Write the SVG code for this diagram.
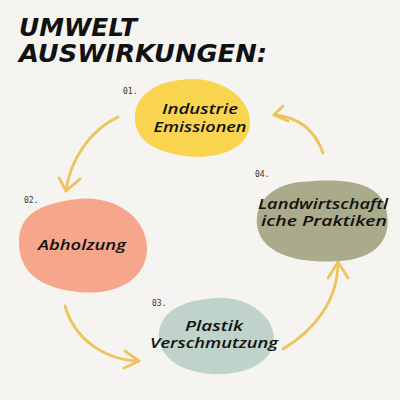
<svg xmlns="http://www.w3.org/2000/svg" width="400" height="400" viewBox="0 0 400 400">
<style>
.title{font-family:"DejaVu Sans","Liberation Sans",sans-serif;font-weight:bold;font-style:italic;font-size:25px;fill:#111}
.lbl{font-family:"Open Sans","DejaVu Sans",sans-serif;font-weight:600;font-style:italic;font-size:15px;fill:#111}
.num{font-family:"DejaVu Sans Mono","Liberation Mono",monospace;font-size:8px;fill:#333}
.arr{fill:none;stroke:#ecc35c;stroke-width:2.8;stroke-linecap:round;stroke-linejoin:round}
</style>
<rect width="400" height="400" fill="#f6f4f1"/>
<g id="title">
<text class="title" x="19" y="36" textLength="118" lengthAdjust="spacingAndGlyphs">UMWELT</text>
<text class="title" x="19" y="62" textLength="248" lengthAdjust="spacingAndGlyphs">AUSWIRKUNGEN:</text>
</g>
<g id="connectors">
<path class="arr" d="M118 117 C 90 130, 70 160, 66 191"/>
<polyline class="arr" points="59,178 66,191 80,179"/>
<path class="arr" d="M65 306 C 75 340, 105 360, 139 361"/>
<polyline class="arr" points="125,351 139,361 124,368"/>
<path class="arr" d="M283 349 C 315 330, 338 300, 338 262"/>
<polyline class="arr" points="328,278 338,262 348,278"/>
<path class="arr" d="M323 153 C 315 130, 298 117, 274 115"/>
<polyline class="arr" points="283,106 274,115 288,121"/>
</g>
<g id="node1">
<path d="M180 80 C 215 74, 250 95, 250 122 C 250 150, 215 160, 185 156 C 155 152, 133 140, 135 115 C 137 92, 160 82, 180 80 Z" fill="#f9d54f"/>
<text class="num" x="123" y="94">01.</text>
<text class="lbl" x="200" y="114" text-anchor="middle" textLength="76" lengthAdjust="spacingAndGlyphs">Industrie</text>
<text class="lbl" x="200" y="132" text-anchor="middle" textLength="93" lengthAdjust="spacingAndGlyphs">Emissionen</text>
</g>
<g id="node2">
<path d="M70 200 C 110 192, 148 215, 147 250 C 146 280, 115 296, 78 292 C 40 288, 18 272, 19 240 C 20 212, 45 204, 70 200 Z" fill="#f5a68b"/>
<text class="num" x="24" y="203">02.</text>
<text class="lbl" x="82" y="250" text-anchor="middle" textLength="88" lengthAdjust="spacingAndGlyphs">Abholzung</text>
</g>
<g id="node3">
<path d="M215 298 C 250 296, 275 318, 274 340 C 273 362, 245 376, 212 374 C 178 372, 157 355, 159 333 C 161 310, 185 300, 215 298 Z" fill="#bfd3cb"/>
<text class="num" x="152" y="306">03.</text>
<text class="lbl" x="214" y="331" text-anchor="middle" textLength="58" lengthAdjust="spacingAndGlyphs">Plastik</text>
<text class="lbl" x="214" y="348" text-anchor="middle" textLength="128" lengthAdjust="spacingAndGlyphs">Verschmutzung</text>
</g>
<g id="node4">
<path d="M300 182 C 340 178, 375 180, 385 205 C 393 230, 385 258, 340 261 C 300 264, 265 255, 258 230 C 252 205, 270 185, 300 182 Z" fill="#a9ab8b"/>
<text class="num" x="255" y="177">04.</text>
<text class="lbl" x="323" y="209" text-anchor="middle" textLength="130" lengthAdjust="spacingAndGlyphs">Landwirtschaftl</text>
<text class="lbl" x="324" y="226" text-anchor="middle" textLength="126" lengthAdjust="spacingAndGlyphs">iche Praktiken</text>
</g>
</svg>
